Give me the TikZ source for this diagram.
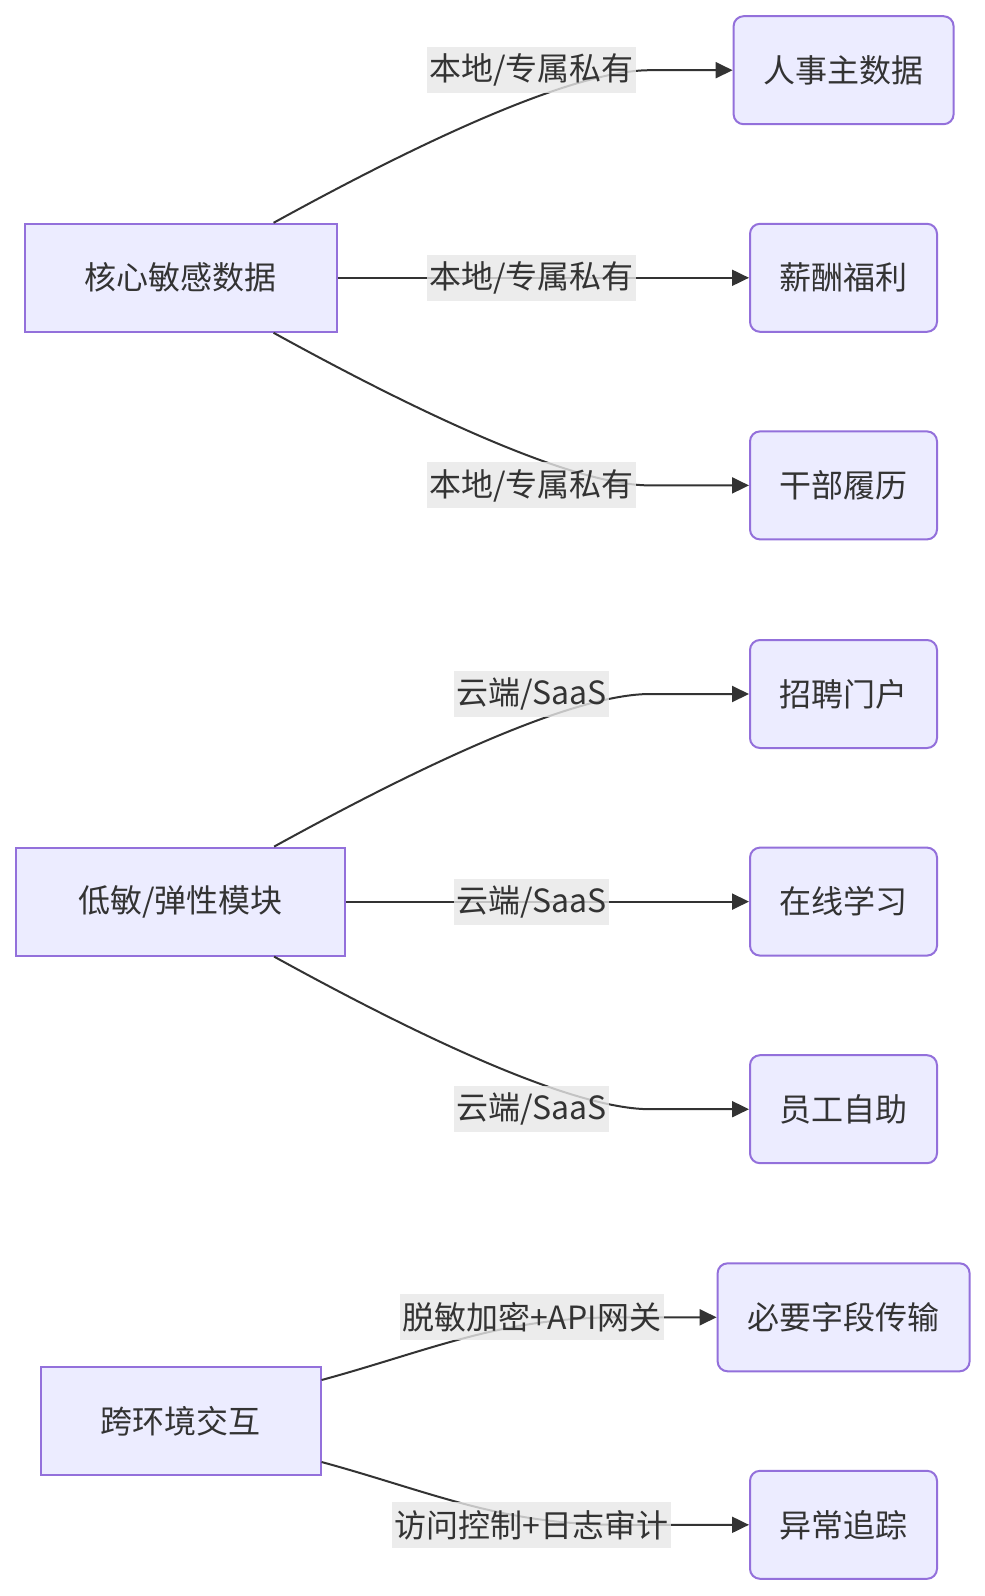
\documentclass[tikz,border=0pt]{standalone}
\usepackage{fontspec}
\setmainfont{Noto Sans CJK SC}
\usetikzlibrary{arrows.meta}
\definecolor{nodefill}{HTML}{ECECFF}
\definecolor{nodeline}{HTML}{9370DB}
\definecolor{ink}{HTML}{333333}
\definecolor{lblbg}{HTML}{E8E8E8}
\tikzset{
  base/.style={rectangle, draw=nodeline, fill=nodefill, line width=2pt, text=ink,
    minimum height=108pt, inner sep=0pt, font=\fontsize{32pt}{38pt}\selectfont},
  leftbox/.style={base},
  rightbox/.style={base, rounded corners=10pt},
  lbl/.style={rectangle, fill=lblbg, fill opacity=0.8, text opacity=1, text=ink,
    inner xsep=2.5pt, inner ysep=0pt, minimum height=46pt,
    font=\fontsize{32pt}{38pt}\selectfont},
  edge/.style={draw=ink, line width=2pt, -{Triangle[length=17pt,width=16pt]}}
}
\begin{document}
\begin{tikzpicture}[x=1pt,y=-1pt]
\useasboundingbox[fill=white] (0,0) rectangle (985,1596);
% nodes
\node[leftbox, minimum width=312pt] (core) at (180.6,277.8) {核心敏感数据};
\node[rightbox, minimum width=220pt] (hr) at (843.6,70.2) {人事主数据};
\node[rightbox, minimum width=187pt] (salary) at (843.5,277.8) {薪酬福利};
\node[rightbox, minimum width=187pt] (cadre) at (843.5,485.4) {干部履历};
\node[leftbox, minimum width=329pt] (low) at (180.6,901.6) {低敏/弹性模块};
\node[rightbox, minimum width=187pt] (recruit) at (843.5,694) {招聘门户};
\node[rightbox, minimum width=187pt] (learn) at (843.5,901.6) {在线学习};
\node[rightbox, minimum width=187pt] (self) at (843.5,1109.2) {员工自助};
\node[leftbox, minimum width=280pt] (cross) at (180.6,1421) {跨环境交互};
\node[rightbox, minimum width=252pt] (field) at (843.6,1317.3) {必要字段传输};
\node[rightbox, minimum width=187pt] (trace) at (843.5,1524.8) {异常追踪};
% edges group 1
\draw[edge] ([xshift=-64pt]core.north east) .. controls +(100,-55) and (560,70.2) .. (650,70.2) -- (hr.west);
\draw[edge] (core.east) -- (salary.west);
\draw[edge] ([xshift=-64pt]core.south east) .. controls +(100,55) and (560,485.4) .. (650,485.4) -- (cadre.west);
% edges group 2
\draw[edge] ([xshift=-72pt]low.north east) .. controls +(100,-55) and (560,694) .. (650,694) -- (recruit.west);
\draw[edge] (low.east) -- (learn.west);
\draw[edge] ([xshift=-72pt]low.south east) .. controls +(100,55) and (560,1109.2) .. (650,1109.2) -- (self.west);
% edges group 3
\draw[edge] ([yshift=41pt]cross.east) .. controls +(110,-30) and (500,1317.3) .. (620,1317.3) -- (field.west);
\draw[edge] ([yshift=-41pt]cross.east) .. controls +(110,30) and (500,1524.8) .. (620,1524.8) -- (trace.west);
% labels
\node[lbl] (l1) at (531.6,70.2) {本地/专属私有};
\node[lbl] (l2) at (531.6,277.8) {本地/专属私有};
\node[lbl] (l3) at (531.6,485.4) {本地/专属私有};
\node[lbl] (l4) at (531.6,694) {云端/SaaS};
\node[lbl] (l5) at (531.6,901.6) {云端/SaaS};
\node[lbl] (l6) at (531.6,1109.2) {云端/SaaS};
\node[lbl] (l7) at (531.6,1317.3) {脱敏加密+API网关};
\node[lbl] (l8) at (531.6,1524.8) {访问控制+日志审计};
\end{tikzpicture}
\end{document}
